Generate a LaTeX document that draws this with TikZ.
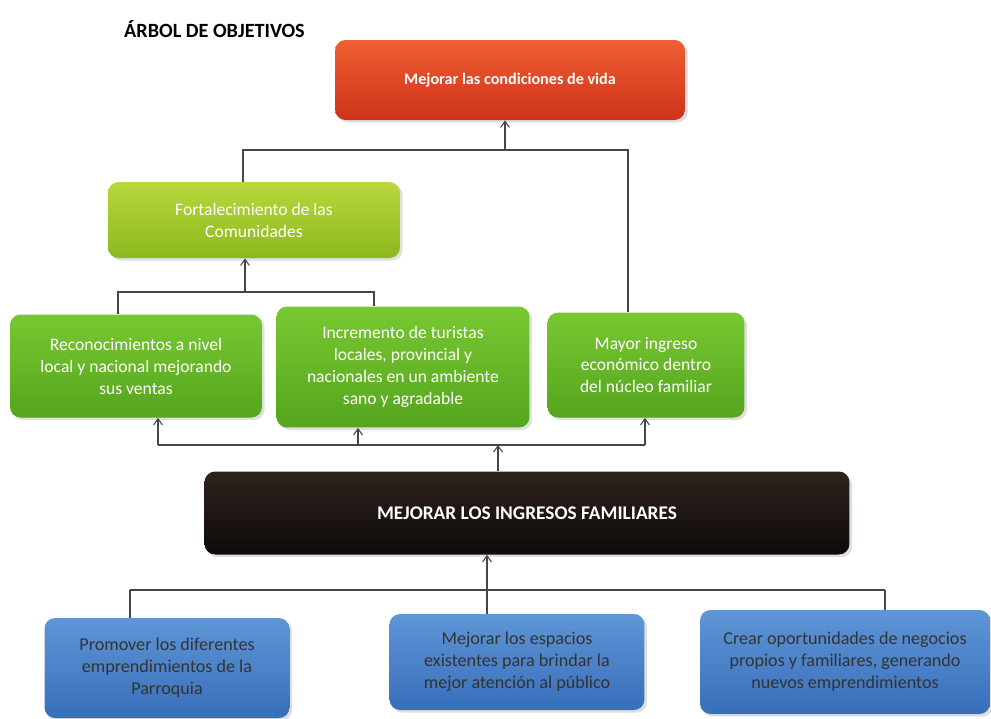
\documentclass[tikz,border=0pt]{standalone}
\usepackage{fontspec}
\setmainfont{Carlito}
\usetikzlibrary{arrows.meta,shadows}

\definecolor{rojoA}{RGB}{240,95,50}
\definecolor{rojoB}{RGB}{205,50,25}
\definecolor{limaA}{RGB}{185,215,60}
\definecolor{limaB}{RGB}{140,185,30}
\definecolor{verdeA}{RGB}{120,200,50}
\definecolor{verdeB}{RGB}{85,165,30}
\definecolor{negroA}{RGB}{45,35,30}
\definecolor{negroB}{RGB}{15,10,10}
\definecolor{azulA}{RGB}{95,150,215}
\definecolor{azulB}{RGB}{55,110,185}
\definecolor{linea}{RGB}{70,70,70}

\tikzset{
  caja/.style={rectangle, rounded corners=6pt, align=center, inner sep=2pt,
    drop shadow={opacity=0.25, shadow xshift=1.5pt, shadow yshift=-1.5pt}},
  objetivo/.style={caja, top color=rojoA, bottom color=rojoB, text=white,
    font=\bfseries\fontsize{9.2}{11}\selectfont},
  fortal/.style={caja, top color=limaA, bottom color=limaB, text=white,
    font=\fontsize{10}{12.5}\selectfont},
  efecto/.style={caja, top color=verdeA, bottom color=verdeB, text=white,
    font=\fontsize{10}{12.5}\selectfont},
  central/.style={caja, top color=negroA, bottom color=negroB, text=white,
    font=\bfseries\fontsize{11}{13}\selectfont},
  medio/.style={caja, top color=azulA, bottom color=azulB, text=black!80,
    font=\fontsize{10.3}{12.5}\selectfont},
  conector/.style={draw=linea, line width=0.6pt},
  flecha/.style={conector, -{Straight Barb[length=3.5pt,width=5pt]}}
}

\begin{document}
\begin{tikzpicture}[x=0.02cm, y=-0.02cm]
\useasboundingbox (0,0) rectangle (991,718);
\clip (0,0) rectangle (991,718);

% titulo
\node[font=\bfseries\fontsize{11.5}{13}\selectfont, anchor=west] (titulo) at (118,29) {ÁRBOL DE OBJETIVOS};

% fin
\node[objetivo, minimum width=7cm, minimum height=1.6cm] (obj) at (510,80) {Mejorar las condiciones de vida};

% efectos
\node[fortal, minimum width=5.84cm, minimum height=1.52cm] (fort) at (254,220) {Fortalecimiento de las\\Comunidades};
\node[efecto, minimum width=5.04cm, minimum height=2.06cm] (reco) at (136,366) {Reconocimientos a nivel\\local y nacional mejorando\\sus ventas};
\node[efecto, minimum width=5.06cm, minimum height=2.42cm] (incr) at (403,367) {Incremento de turistas\\locales, provincial y\\nacionales en un ambiente\\sano y agradable};
\node[efecto, minimum width=3.94cm, minimum height=2.1cm] (mayor) at (646,365) {Mayor ingreso\\económico dentro\\del núcleo familiar};

% problema central
\node[central, minimum width=12.9cm, minimum height=1.66cm] (ingr) at (527,513) {MEJORAR LOS INGRESOS FAMILIARES};

% medios
\node[medio, minimum width=4.9cm, minimum height=2cm] (prom) at (167,668) {Promover los diferentes\\emprendimientos de la\\Parroquia};
\node[medio, minimum width=5.1cm, minimum height=1.92cm] (espa) at (517,662) {Mejorar los espacios\\existentes para brindar la\\mejor atención al público};
\node[medio, minimum width=5.8cm, minimum height=2.08cm] (crear) at (845,662) {Crear oportunidades de negocios\\propios y familiares, generando\\nuevos emprendimientos};

% puntos de union
\coordinate (b0) at (505,150);
\coordinate (b1) at (243,150);
\coordinate (b2) at (628,150);
\coordinate (c0) at (245,292);
\coordinate (c1) at (118,292);
\coordinate (c2) at (374,292);
\coordinate (d0) at (498,445);
\coordinate (d1) at (158,445);
\coordinate (d2) at (358,445);
\coordinate (d3) at (645,445);
\coordinate (e1) at (130,590);
\coordinate (e2) at (487,590);
\coordinate (e3) at (885,590);

\draw[flecha] (b0) -- (obj.south -| b0);
\draw[conector] (fort.north -| b1) -- (b1) -- (b2) -- (mayor.north -| b2);

\draw[flecha] (c0) -- (fort.south -| c0);
\draw[conector] (reco.north -| c1) -- (c1) -- (c2) -- (incr.north -| c2);

\draw[conector] (d1) -- (d3);
\draw[flecha] (d1) -- (reco.south -| d1);
\draw[flecha] (d2) -- (incr.south -| d2);
\draw[flecha] (d3) -- (mayor.south -| d3);
\draw[flecha] (ingr.north -| d0) -- (d0);

\draw[conector] (e1) -- (e3);
\draw[flecha] (e2) -- (ingr.south -| e2);
\draw[conector] (e1) -- (prom.north -| e1);
\draw[conector] (e2) -- (espa.north -| e2);
\draw[conector] (e3) -- (crear.north -| e3);
\end{tikzpicture}
\end{document}
